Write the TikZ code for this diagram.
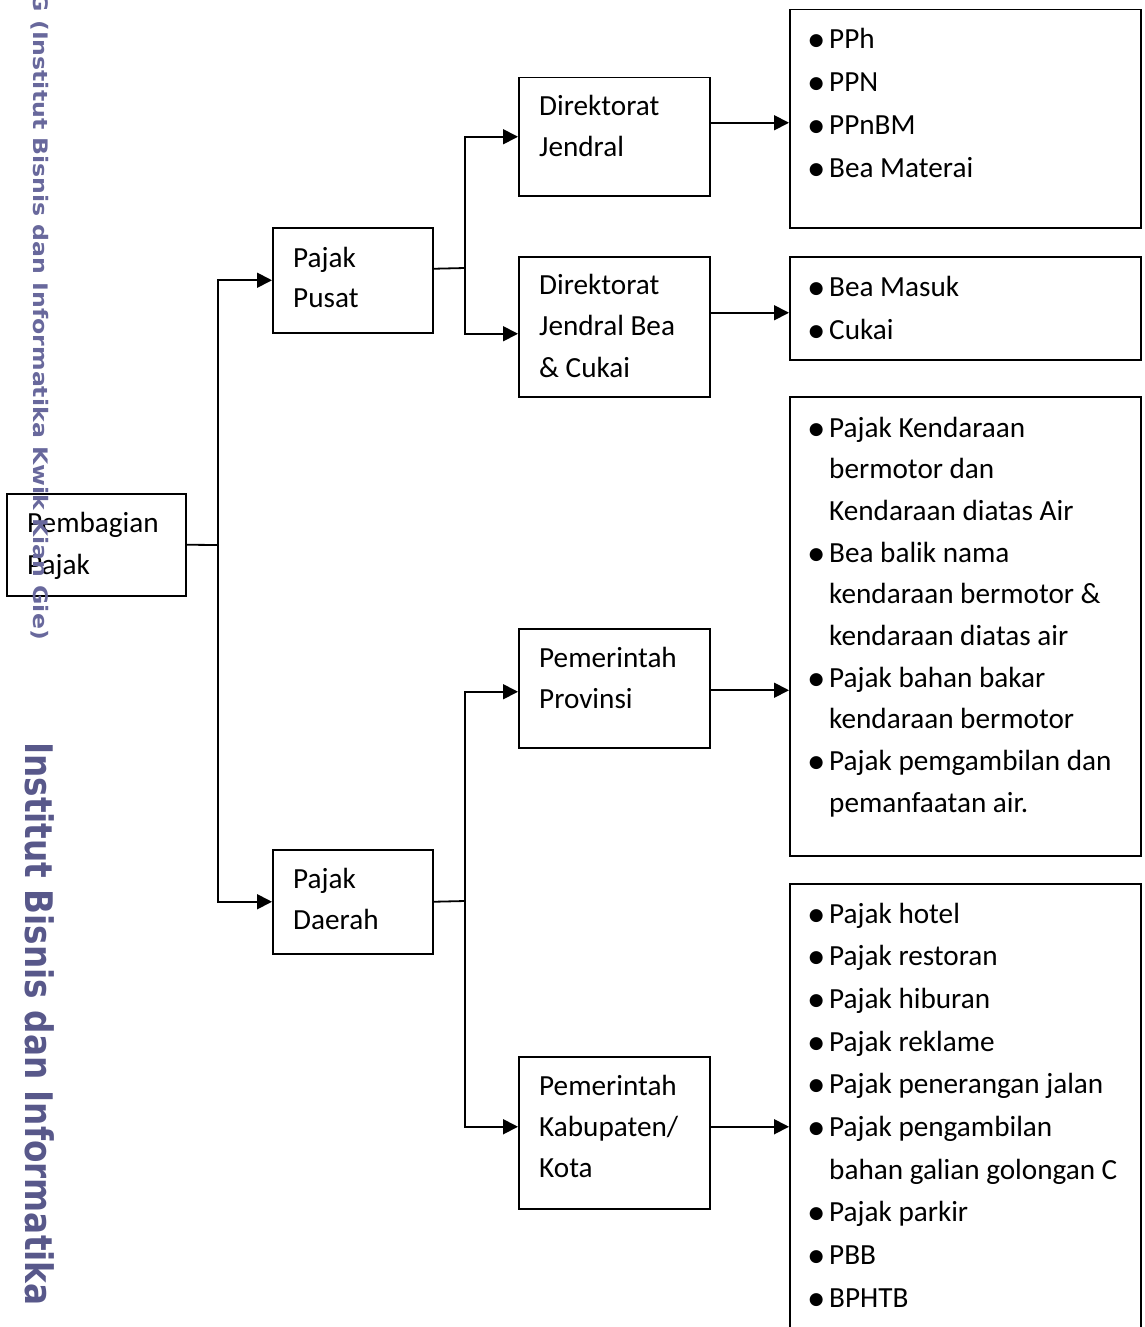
\documentclass[tikz,border=0pt]{standalone}
\usepackage{fontspec}
\usepackage{graphicx}
\setmainfont{Carlito}
\newfontfamily\dejavu{DejaVu Sans}
\usetikzlibrary{arrows.meta}
\definecolor{wmlight}{RGB}{104,104,156}
\definecolor{wmdark}{RGB}{88,88,138}
\newcommand\bul{\llap{\raisebox{3pt}{\dejavu\fontsize{17}{17}\selectfont ●}\hspace{5.5pt}}}
\tikzset{
  box/.style={draw, line width=1.5pt, inner sep=0pt, anchor=north west},
  txt/.style={inner sep=0pt, anchor=base west, align=left, font=\fontsize{29.2}{#1}\selectfont},
  txt/.default=41,
  conn/.style={line width=1.8pt},
  arr/.style={conn, -{Triangle[length=15pt,width=15pt]}},
}
\begin{document}
\begin{tikzpicture}[x=1pt,y=-1pt]
\useasboundingbox (0,0) rectangle (1144,1327);
\clip (0,0) rectangle (1144,1327);
% boxes
\node[box, minimum width=179, minimum height=102] (pemb) at (6,493) {};
\node[box, minimum width=160, minimum height=105] (pusat) at (272,227) {};
\node[box, minimum width=160, minimum height=104] (daerah) at (272,849) {};
\node[box, minimum width=191, minimum height=118] (dj) at (518,77) {};
\node[box, minimum width=191, minimum height=140] (djbc) at (518,256) {};
\node[box, minimum width=191, minimum height=119] (prov) at (518,628) {};
\node[box, minimum width=191, minimum height=152] (kab) at (518,1056) {};
\node[box, minimum width=351, minimum height=218] (l1) at (789,9) {};
\node[box, minimum width=351, minimum height=103] (l2) at (789,256) {};
\node[box, minimum width=351, minimum height=459] (l3) at (789,396) {};
\node[box, minimum width=351, minimum height=470] (l4) at (789,883) {};
% texts
\node[txt=42] (pemb-t) at (27,532) {\vtop{\hbox{Pembagian}\hbox{Pajak}}};
\node[txt=40] (pusat-t) at (293,267) {\vtop{\hbox{Pajak}\hbox{Pusat}}};
\node[txt=41] (daerah-t) at (293,888) {\vtop{\hbox{Pajak}\hbox{Daerah}}};
\node[txt=41] (dj-t) at (539,116) {\vtop{\hbox{Direktorat}\hbox{Jendral}}};
\node[txt=41.5] (djbc-t) at (539,294) {\vtop{\hbox{Direktorat}\hbox{Jendral Bea}\hbox{\& Cukai}}};
\node[txt=41] (prov-t) at (539,667) {\vtop{\hbox{Pemerintah}\hbox{Provinsi}}};
\node[txt=41] (kab-t) at (539,1095) {\vtop{\hbox{Pemerintah}\hbox{Kabupaten/}\hbox{Kota}}};
\node[txt=42.7] (l1-t) at (829,49) {\vtop{\hbox{\bul PPh}\hbox{\bul PPN}\hbox{\bul PPnBM}\hbox{\bul Bea Materai}}};
\node[txt=43] (l2-t) at (829,296) {\vtop{\hbox{\bul Bea Masuk}\hbox{\bul Cukai}}};
\node[txt=41.7] (l3-t) at (829,437) {\vtop{\hbox{\bul Pajak Kendaraan}\hbox{bermotor dan}\hbox{Kendaraan diatas Air}\hbox{\bul Bea balik nama}\hbox{kendaraan bermotor \&}\hbox{kendaraan diatas air}\hbox{\bul Pajak bahan bakar}\hbox{kendaraan bermotor}\hbox{\bul Pajak pemgambilan dan}\hbox{pemanfaatan air.}}};
\node[txt=42.7] (l4-t) at (829,923) {\vtop{\hbox{\bul Pajak hotel}\hbox{\bul Pajak restoran}\hbox{\bul Pajak hiburan}\hbox{\bul Pajak reklame}\hbox{\bul Pajak penerangan jalan}\hbox{\bul Pajak pengambilan}\hbox{bahan galian golongan C}\hbox{\bul Pajak parkir}\hbox{\bul PBB}\hbox{\bul BPHTB}}};
% junctions
\coordinate (j1) at (218,545);
\coordinate (j2) at (465,268);
\coordinate (j3) at (465,901);
\coordinate (pusat-o) at ([yshift=11.5pt]pusat.east);
\coordinate (djbc-i) at ([yshift=-7pt]djbc.west);
\coordinate (prov-i) at ([yshift=-3.5pt]prov.west);
\coordinate (kab-i) at ([yshift=6pt]kab.west);
\coordinate (dj-o) at ([yshift=14pt]dj.east);
\coordinate (djbc-o) at ([yshift=14pt]djbc.east);
\coordinate (prov-o) at ([yshift=-2pt]prov.east);
\coordinate (kab-o) at ([yshift=6pt]kab.east);
% connectors
\draw[conn] (pemb.east) -- (j1);
\draw[arr] (j1) |- (pusat.west);
\draw[arr] (j1) |- (daerah.west);
\draw[conn] (pusat-o) -- (j2);
\draw[arr] (j2) |- (dj.west);
\draw[arr] (j2) |- (djbc-i);
\draw[conn] (daerah.east) -- (j3);
\draw[arr] (j3) |- (prov-i);
\draw[arr] (j3) |- (kab-i);
\draw[arr] (dj-o) -- (dj-o -| l1.west);
\draw[arr] (djbc-o) -- (djbc-o -| l2.west);
\draw[arr] (prov-o) -- (prov-o -| l3.west);
\draw[arr] (kab-o) -- (kab-o -| l4.west);
% watermarks
\node[rotate=-90, anchor=base east, inner sep=0pt, text=wmlight, font=\dejavu\bfseries\fontsize{20}{20}\selectfont] (wm1) at (33,640) {\scalebox{1.18}[1]{G (Institut Bisnis dan Informatika Kwik Kian Gie)}};
\node[rotate=-90, anchor=base west, inner sep=0pt, text=wmdark, font=\dejavu\bfseries\fontsize{38}{38}\selectfont] (wm2) at (25,742) {\scalebox{0.86}[1]{Institut Bisnis dan Informatika}};
\end{tikzpicture}
\end{document}
